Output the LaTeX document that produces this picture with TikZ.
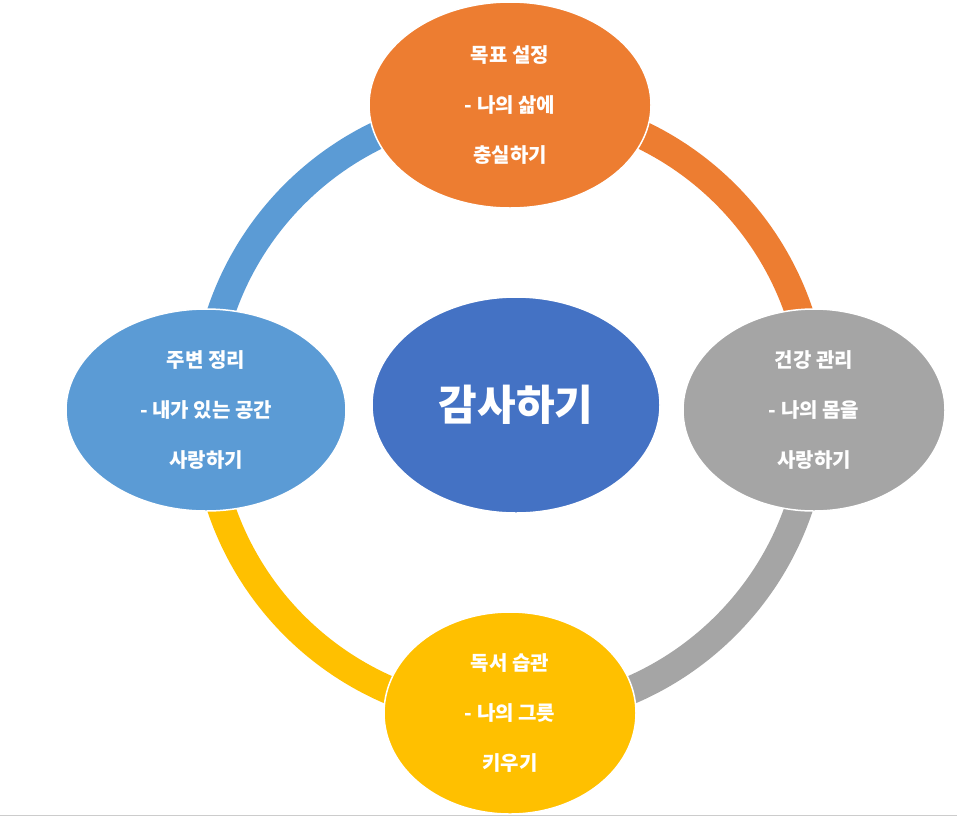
\documentclass[tikz,border=0pt]{standalone}
\usepackage{fontspec}
\setmainfont{Noto Sans CJK KR}
\usetikzlibrary{shadows}
\definecolor{cOr}{HTML}{ED7D31}
\definecolor{cGr}{HTML}{A5A5A5}
\definecolor{cYe}{HTML}{FFC000}
\definecolor{cBl}{HTML}{5B9BD5}
\definecolor{cCe}{HTML}{4472C4}
\tikzset{
  ring/.style={line width=28pt},
  bub/.style={ellipse, draw=white, line width=1.5pt, text=white, font=\bfseries\fontsize{20}{50}\selectfont, align=center, inner sep=0pt},
}
\usetikzlibrary{shapes.geometric}
\begin{document}
\begin{tikzpicture}[x=1pt,y=1pt]
\useasboundingbox (0,0) rectangle (957,-817);
\fill[white] (0,0) rectangle (957,-817);
\draw[gray!40] (0,-815) -- (957,-815);
\coordinate (c) at (510,-410);
\draw[ring,cOr] (c) ++(90:305) arc (90:0:305);
\draw[ring,cGr] (c) ++(0:305) arc (0:-90:305);
\draw[ring,cYe] (c) ++(-90:305) arc (-90:-180:305);
\draw[ring,cBl] (c) ++(180:305) arc (180:90:305);
\node[bub,fill=cOr,minimum width=282,minimum height=206] (t) at (510,-105) {목표 설정\\- 나의 삶에\\충실하기};
\node[bub,fill=cGr,minimum width=262,minimum height=202] (r) at (814,-410) {건강 관리\\- 나의 몸을\\사랑하기};
\node[bub,fill=cYe,minimum width=252,minimum height=202] (b) at (510,-713) {독서 습관\\- 나의 그릇\\키우기};
\node[bub,fill=cBl,minimum width=280,minimum height=202] (l) at (206,-410) {주변 정리\\- 내가 있는 공간\\사랑하기};
\node[bub,fill=cCe,minimum width=288,minimum height=216,font=\bfseries\fontsize{42}{50}\selectfont] (m) at (516,-405) {감사하기};
\end{tikzpicture}
\end{document}
